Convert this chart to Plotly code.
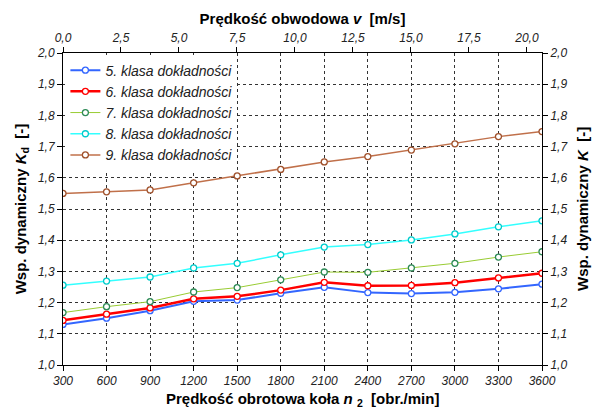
import plotly.graph_objects as go

n_rpm = [300, 600, 900, 1200, 1500, 1800, 2100, 2400, 2700, 3000, 3300, 3600]
k5 = [1.130, 1.150, 1.174, 1.204, 1.208, 1.230, 1.249, 1.232, 1.229, 1.233, 1.244, 1.259]
k6 = [1.143, 1.163, 1.183, 1.212, 1.220, 1.240, 1.265, 1.254, 1.255, 1.264, 1.279, 1.294]
k7 = [1.168, 1.187, 1.203, 1.234, 1.248, 1.273, 1.298, 1.297, 1.311, 1.326, 1.346, 1.363]
k8 = [1.256, 1.269, 1.282, 1.311, 1.326, 1.353, 1.378, 1.386, 1.401, 1.420, 1.443, 1.462]
k9 = [1.550, 1.555, 1.561, 1.584, 1.606, 1.627, 1.651, 1.668, 1.689, 1.709, 1.732, 1.748]
names = ["5. klasa dokładności", "6. klasa dokładności", "7. klasa dokładności",
         "8. klasa dokładności", "9. klasa dokładności"]
v_range = [0, 20.65]

series = [k5, k6, k7, k8, k9]
line_colors = ["#3366ff", "#ff0000", "#99cc33", "#33ffff", "#c0704a"]
marker_colors = ["#3366ff", "#ff0000", "#2e8b57", "#00cccc", "#a0522d"]
widths = [2, 2.5, 1, 1.5, 1.5]

FONT = "Liberation Sans, Arial, sans-serif"
tickfont = dict(family=FONT, size=12, color="#222222", style="italic")
titlefont = dict(family=FONT, size=15, color="#000000", weight="bold")

fig = go.Figure()
for vals, name, lc, mc, w in zip(series, names, line_colors, marker_colors, widths):
    fig.add_trace(go.Scatter(
        x=n_rpm, y=vals, name=name, mode="lines+markers",
        line=dict(color=lc, width=w),
        marker=dict(symbol="circle", size=6, color="white", line=dict(color=mc, width=1.3)),
    ))
# empty trace to activate secondary axes
fig.add_trace(go.Scatter(x=[], y=[], xaxis="x2", yaxis="y2", showlegend=False, hoverinfo="skip"))

grid = dict(showgrid=True, gridcolor="#333333", gridwidth=1, griddash="3px,3px")
axline = dict(showline=True, linecolor="black", linewidth=1, ticks="outside",
              ticklen=5, tickcolor="black", zeroline=False, tickfont=tickfont)

fig.update_layout(
    width=595, height=410,
    margin=dict(l=63, r=53, t=53, b=45),
    paper_bgcolor="white", plot_bgcolor="white",
    separators=",.",
    showlegend=True,
    legend=dict(x=0.005, y=0.995, xanchor="left", yanchor="top",
                bgcolor="white", borderwidth=0,
                font=dict(family=FONT, size=14, color="#222222", style="italic"),
                itemwidth=30, tracegroupgap=0),
    xaxis=dict(range=[300, 3600], tickvals=n_rpm, **grid, **axline),
    yaxis=dict(range=[1.0, 2.0], dtick=0.1, tickformat=".1f", **grid, **axline,
               title=dict(text="Wsp. dynamiczny <i>K</i><sub>d</sub>  [-]",
                          font=titlefont, standoff=6)),
    yaxis2=dict(range=[1.0, 2.0], dtick=0.1, tickformat=".1f", overlaying="y", side="right",
                anchor="x", showgrid=False, **axline),
    xaxis2=dict(range=v_range, dtick=2.5, tickformat=".1f", overlaying="x", side="top",
                anchor="y", showgrid=False, **axline,
                title=dict(text="Prędkość obwodowa <i>v</i>  [m/s]", font=titlefont, standoff=2)),
    annotations=[
        dict(text="Prędkość obrotowa koła <i>n</i> <sub>2</sub>  [obr./min]",
             xref="paper", yref="paper", x=0.5, y=-0.112, xanchor="center", yanchor="middle",
             showarrow=False, font=titlefont),
        dict(text="Wsp. dynamiczny <i>K</i>  [-]",
             xref="paper", yref="paper", x=1.0835, y=0.5, xanchor="center", yanchor="middle",
             textangle=-90, showarrow=False, font=titlefont),
    ],
)

fig.write_html("out.html", config={"displayModeBar": False},
               post_script="document.body.style.margin='0px';document.body.style.overflow='hidden';")
